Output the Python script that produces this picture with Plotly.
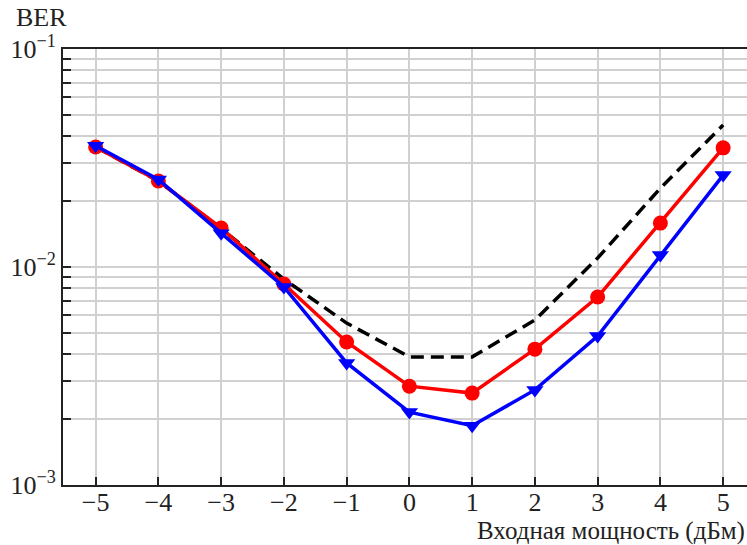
import plotly.graph_objects as go

x_vals = [-5, -4, -3, -2, -1, 0, 1, 2, 3, 4, 5]
ber_dashed = [0.0355, 0.0248, 0.0150, 0.0088, 0.00553, 0.00387, 0.00387, 0.00571, 0.0110, 0.0230, 0.0448]
ber_red = [0.0355, 0.0248, 0.0151, 0.00836, 0.00453, 0.00284, 0.00264, 0.00420, 0.00728, 0.0159, 0.0352]
ber_blue = [0.0360, 0.0252, 0.0143, 0.0081, 0.00363, 0.00216, 0.00187, 0.00273, 0.00482, 0.01135, 0.0264]

x_ticktext = ["−5", "−4", "−3", "−2", "−1", "0", "1", "2", "3", "4", "5"]
y_major = {1e-3: "10<sup>−3</sup>", 1e-2: "10<sup>−2</sup>", 1e-1: "10<sup>−1</sup>"}

y_tickvals = []
y_ticktext = []
for d in [1e-3, 1e-2]:
    for m in range(1, 10):
        v = round(m * d, 6)
        y_tickvals.append(v)
        y_ticktext.append(y_major.get(v, ""))
y_tickvals.append(1e-1)
y_ticktext.append(y_major[1e-1])

font_family = "Liberation Serif"
fsize = 26

fig = go.Figure()
fig.add_trace(go.Scatter(x=x_vals, y=ber_dashed, mode="lines",
                         line=dict(color="black", width=3.5, dash="13px,7px")))
fig.add_trace(go.Scatter(x=x_vals, y=ber_red, mode="lines+markers",
                         line=dict(color="#ff0000", width=3.5),
                         marker=dict(symbol="circle", size=15, color="#ff0000")))
fig.add_trace(go.Scatter(x=x_vals, y=ber_blue, mode="lines+markers",
                         line=dict(color="#0000ff", width=3.5),
                         marker=dict(symbol="triangle-down", size=15, color="#0000ff")))

fig.update_layout(
    width=747, height=545,
    margin=dict(l=63, r=0, t=49, b=60),
    paper_bgcolor="white", plot_bgcolor="white",
    showlegend=False,
    hovermode=False,
    font=dict(family=font_family, size=fsize, color="#222222"),
    xaxis=dict(range=[-5.52, 5.38], tickvals=x_vals, ticktext=x_ticktext,
               tickfont=dict(family=font_family, size=fsize, color="#222222"),
               ticklabelstandoff=-7,
               showgrid=True, gridcolor="#d0d0d0", gridwidth=1.5,
               showline=True, linecolor="#222222", linewidth=2, mirror=True,
               ticks="inside", ticklen=8, tickwidth=2, tickcolor="#222222",
               zeroline=False),
    yaxis=dict(type="log", range=[-3, -1], tickvals=y_tickvals, ticktext=y_ticktext,
               tickfont=dict(family=font_family, size=fsize, color="#222222"),
               showgrid=True, gridcolor="#d0d0d0", gridwidth=1.5,
               showline=True, linecolor="#222222", linewidth=2,
               ticks="inside", ticklen=8, tickwidth=2, tickcolor="#222222",
               zeroline=False),
    annotations=[
        dict(text="Входная мощность (дБм)", xref="paper", yref="paper",
             x=1.0, y=-0.105, xanchor="right", yanchor="middle", showarrow=False,
             font=dict(family=font_family, size=25, color="#222222")),
        dict(text="BER", xref="paper", yref="paper",
             x=-0.072, y=1.073, xanchor="left", yanchor="middle", showarrow=False,
             font=dict(family=font_family, size=26, color="#222222")),
    ],
)

fig.write_html("out.html", config={"displayModeBar": False},
               post_script="document.body.style.margin='0';")
